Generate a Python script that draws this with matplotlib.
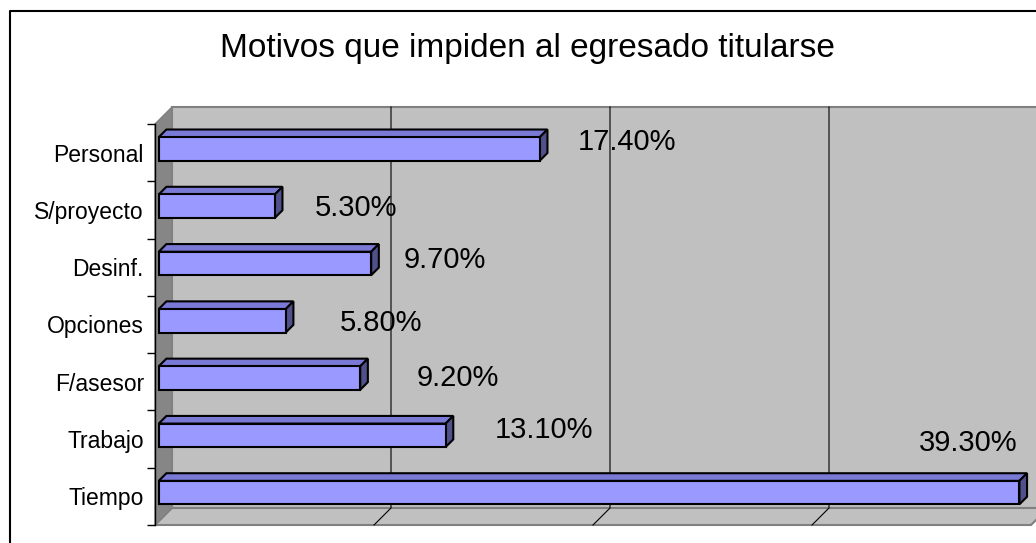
# gráfico de barras horizontales estilo "3D" (Excel clásico)
# motivos que impiden al egresado titularse
# ejecución: python3 plot.py  -> out.png

from __future__ import annotations

import matplotlib

matplotlib.use("Agg")
import matplotlib.pyplot as plt
from matplotlib.lines import Line2D
from matplotlib.patches import Polygon
from matplotlib.transforms import IdentityTransform, offset_copy

# Datos (de abajo hacia arriba, como los dibuja barh)
CATEGORIAS: list[str] = [
  "Tiempo", "Trabajo", "F/asesor", "Opciones", "Desinf.", "S/proyecto", "Personal",
]
PORCENTAJES: list[float] = [39.3, 13.1, 9.2, 5.8, 9.7, 5.3, 17.4]
TITULO = "Motivos que impiden al egresado titularse"
EJE_MAX = 40
LINEAS_GUIA: list[int] = [10, 20, 30]

# Maquetación (pixeles, dpi = 100)
ANCHO, ALTO = 1036, 543
PROF = 17.0            # profundidad de las paredes (dx = dy)
Z0, Z1 = 0.22, 0.67    # profundidad de la cara frontal / trasera de la barra
ALTO_BARRA = 0.41
# desplazamiento de cada etiqueta respecto al extremo de la barra (px)
AJUSTE_ETIQUETAS: list[tuple[float, float]] = [
  (2, 45), (53, 1.5), (60, -4), (58, -6.5), (36, -1), (44, -6), (42, 2.5),
]

FUENTE = ["Liberation Sans", "DejaVu Sans"]
C_PARED = "#C0C0C0"
C_LATERAL = "#868686"
C_BORDE = "#808080"
C_FRENTE = "#9999FF"
C_ARRIBA = "#7A7AD6"
C_LADO = "#50508A"


def _proj(ax, x: float, y: float, z: float) -> tuple[float, float]:
  """Punto de datos (x, y) desplazado z veces la profundidad, en pixeles."""
  px, py = ax.transData.transform((x, y))
  return px + z * PROF, py + z * PROF


def _poligono(ax, puntos, color, borde, lw, zorder) -> None:
  ax.add_artist(Polygon(
    [_proj(ax, *p) for p in puntos], closed=True, facecolor=color,
    edgecolor=borde, linewidth=lw, transform=IdentityTransform(),
    clip_on=False, zorder=zorder, joinstyle="miter",
  ))


def main() -> None:
  plt.rcParams["font.family"] = FUENTE
  fig = plt.figure(figsize=(ANCHO / 100, ALTO / 100), dpi=100)
  ax = fig.add_axes([155 / ANCHO, 18 / ALTO, 876 / ANCHO, 401 / ALTO])
  ax.set_facecolor("none")
  n = len(CATEGORIAS)
  y0, y1 = -0.5, n - 0.5
  ax.set_xlim(0, EJE_MAX)
  ax.set_ylim(y0, y1)

  # paredes: fondo, lateral izquierda y suelo
  _poligono(ax, [(0, y0, 1), (EJE_MAX, y0, 1), (EJE_MAX, y1, 1), (0, y1, 1)],
            C_PARED, C_BORDE, 1.5, 0.5)
  _poligono(ax, [(0, y0, 0), (0, y1, 0), (0, y1, 1), (0, y0, 1)],
            C_LATERAL, C_BORDE, 1.0, 0.6)
  _poligono(ax, [(0, y0, 0), (EJE_MAX, y0, 0), (EJE_MAX, y0, 1), (0, y0, 1)],
            C_PARED, C_BORDE, 1.5, 0.6)

  for g in LINEAS_GUIA:
    pts = [_proj(ax, g, y1, 1), _proj(ax, g, y0, 1), _proj(ax, g, y0, 0)]
    ax.add_artist(Line2D([p[0] for p in pts], [p[1] for p in pts],
                         color="black", linewidth=0.8,
                         transform=IdentityTransform(), clip_on=False, zorder=0.8))

  # barras: cara frontal con barh, caras superior y lateral como polígonos
  posiciones = list(range(n))
  frente = offset_copy(ax.transData, fig=fig, x=Z0 * PROF, y=Z0 * PROF, units="dots")
  ax.barh(posiciones, PORCENTAJES, height=ALTO_BARRA, color=C_FRENTE,
          edgecolor="black", linewidth=1.5, transform=frente, clip_on=False, zorder=3)
  ax.set_xlim(0, EJE_MAX)
  ax.set_ylim(y0, y1)
  h = ALTO_BARRA / 2
  for y, v in zip(posiciones, PORCENTAJES):
    _poligono(ax, [(0, y + h, Z0), (v, y + h, Z0), (v, y + h, Z1), (0, y + h, Z1)],
              C_ARRIBA, "black", 1.5, 2.5)
    _poligono(ax, [(v, y - h, Z0), (v, y + h, Z0), (v, y + h, Z1), (v, y - h, Z1)],
              C_LADO, "black", 1.5, 2.5)

  # etiquetas de valor
  for y, v, (dx, dy) in zip(posiciones, PORCENTAJES, AJUSTE_ETIQUETAS):
    ax.annotate(f"{v:.2f}%", xy=(v, y), xytext=(dx, dy), textcoords="offset pixels",
                ha="right" if v == max(PORCENTAJES) else "left", va="baseline",
                fontsize=21, color="black", annotation_clip=False, zorder=4)

  # ejes: solo la línea izquierda con marcas entre categorías
  for lado in ("top", "right", "bottom"):
    ax.spines[lado].set_visible(False)
  ax.spines["left"].set_linewidth(1.0)
  ax.spines["left"].set_zorder(2)
  ax.set_xticks([])
  ax.set_yticks([y0 + i for i in range(n + 1)])
  ax.set_yticklabels([])
  ax.tick_params(axis="y", which="major", length=6, width=1, direction="out")
  ax.set_yticks(posiciones, minor=True)
  ax.set_yticklabels(CATEGORIAS, minor=True, fontsize=16.5)
  ax.tick_params(axis="y", which="minor", length=0, pad=8)

  # título y marco del gráfico
  fig.text(527 / ANCHO, 1 - 57 / ALTO, TITULO, ha="center", va="baseline", fontsize=24)
  fig.add_artist(Line2D([9.5 / ANCHO, 9.5 / ANCHO, 1.01], [-0.01, 1 - 10.5 / ALTO, 1 - 10.5 / ALTO],
                        transform=fig.transFigure, color="black", linewidth=1.5))

  fig.savefig("out.png", dpi=100)
  plt.close(fig)


if __name__ == "__main__":
  main()
